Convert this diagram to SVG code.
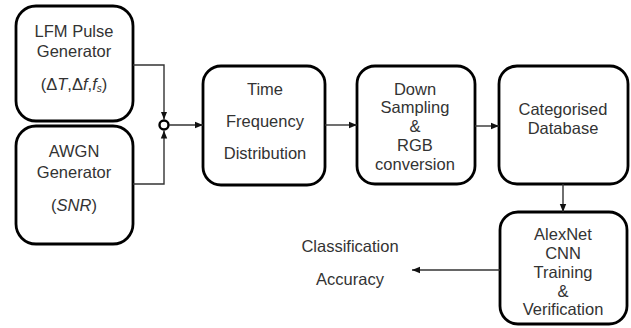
<svg xmlns="http://www.w3.org/2000/svg" width="631" height="328" viewBox="0 0 631 328">
<defs>
<marker id="ah" viewBox="0 0 10 10" refX="10" refY="5" markerWidth="8" markerHeight="8" markerUnits="userSpaceOnUse" orient="auto">
<path d="M0,1 L10,5 L0,9 Z" fill="#111"/>
</marker>
</defs>
<style>
.box{fill:#fff;stroke:#000;stroke-width:2.8}
.t{font-family:"Liberation Sans",Arial,sans-serif;font-size:16.5px;fill:#333;text-anchor:middle}
.c{fill:none;stroke:#333;stroke-width:1.4}
</style>
<rect width="631" height="328" fill="#fff"/>
<g id="lfm">
<rect class="box" x="16" y="6" width="117" height="115" rx="20"/>
<text class="t" x="74" y="37">LFM Pulse</text>
<text class="t" x="74" y="57">Generator</text>
<text class="t" x="74" y="90">(Δ<tspan font-style="italic">T</tspan>,Δ<tspan font-style="italic">f</tspan>,<tspan font-style="italic">f</tspan><tspan font-style="italic" font-size="10" dy="2">s</tspan><tspan dy="-2">)</tspan></text>
</g>
<g id="awgn">
<rect class="box" x="16" y="126" width="117" height="118" rx="20"/>
<text class="t" x="74" y="157">AWGN</text>
<text class="t" x="74" y="178">Generator</text>
<text class="t" x="74" y="211">(<tspan font-style="italic">SNR</tspan>)</text>
</g>
<g id="sum">
<circle cx="164" cy="125" r="4.5" fill="#fff" stroke="#000" stroke-width="2.4"/>
</g>
<g id="tfd">
<rect class="box" x="203" y="66" width="122" height="119" rx="18"/>
<text class="t" x="265" y="95">Time</text>
<text class="t" x="265" y="127">Frequency</text>
<text class="t" x="265" y="159">Distribution</text>
</g>
<g id="ds">
<rect class="box" x="357" y="66" width="118" height="118" rx="18"/>
<text class="t" x="415" y="95">Down</text>
<text class="t" x="415" y="113">Sampling</text>
<text class="t" x="415" y="132">&amp;</text>
<text class="t" x="415" y="151">RGB</text>
<text class="t" x="415" y="170">conversion</text>
</g>
<g id="cd">
<rect class="box" x="499" y="66" width="129" height="118" rx="18"/>
<text class="t" x="563" y="115">Categorised</text>
<text class="t" x="563" y="134">Database</text>
</g>
<g id="alex">
<rect class="box" x="500" y="212" width="127" height="112" rx="18"/>
<text class="t" x="563" y="240">AlexNet</text>
<text class="t" x="563" y="259">CNN</text>
<text class="t" x="563" y="278">Training</text>
<text class="t" x="563" y="297">&amp;</text>
<text class="t" x="563" y="315">Verification</text>
</g>
<g id="acc">
<text class="t" x="350" y="252">Classification</text>
<text class="t" x="350" y="285">Accuracy</text>
</g>
<g id="connectors">
<path class="c" d="M133,65 H164 V119.5" marker-end="url(#ah)"/>
<path class="c" d="M133,184 H164 V130.5" marker-end="url(#ah)"/>
<path class="c" d="M169,125 H203" marker-end="url(#ah)"/>
<path class="c" d="M325,125 H357" marker-end="url(#ah)"/>
<path class="c" d="M475,126 H499" marker-end="url(#ah)"/>
<path class="c" d="M563,184 V212" marker-end="url(#ah)"/>
<path class="c" d="M500,270 H412" marker-end="url(#ah)"/>
</g>
</svg>
